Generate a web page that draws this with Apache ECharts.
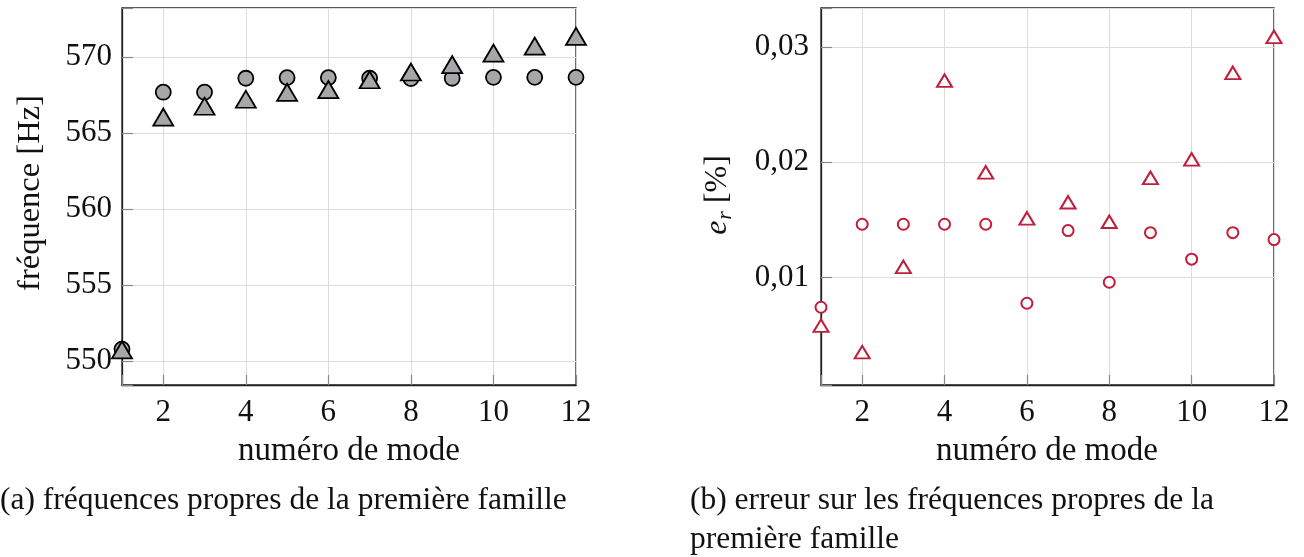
<!DOCTYPE html>
<html>
<head>
<meta charset="utf-8">
<script src="https://cdn.jsdelivr.net/npm/echarts@6/dist/echarts.min.js"></script>
<style>
html,body{margin:0;padding:0;background:#fff;}
#c{width:1304px;height:557px;}
</style>
</head>
<body>
<div id="c"></div>
<script>
// ---- data ----
const modes = [1, 2, 3, 4, 5, 6, 7, 8, 9, 10, 11, 12];
const freqRef = [550.8, 567.7, 567.7, 568.62, 568.66, 568.66, 568.62, 568.6, 568.62, 568.68, 568.68, 568.68];
const freqModel = [550.55, 565.86, 566.58, 567.04, 567.49, 567.67, 568.32, 568.83, 569.32, 570.07, 570.53, 571.18];
const errRef = [0.00743, 0.01463, 0.01463, 0.01463, 0.01463, 0.00778, 0.01408, 0.0096, 0.0139, 0.0116, 0.0139, 0.0133];
const errModel = [0.00566, 0.00336, 0.01076, 0.02691, 0.01896, 0.01497, 0.01636, 0.01467, 0.01848, 0.02008, 0.02758, 0.0307];
const xTicks = [2, 4, 6, 8, 10, 12];
const freqTicks = [550, 555, 560, 565, 570];
const errTicks = [0.01, 0.02, 0.03];
const labelsText = {
  xName: 'numéro de mode',
  yNameA: 'fréquence [Hz]',
  captionA: '(a) fréquences propres de la première famille',
  captionB1: '(b) erreur sur les fréquences propres de la',
  captionB2: 'première famille'
};

const FONT = 'Liberation Serif';
const TXT = '#111';
const RED = '#c01f3c';
const GRAY = '#a7a7aa';

function inList(list, v) {
  return list.some(t => Math.abs(t - v) < 1e-7 * Math.max(1, Math.abs(t)));
}

const chart = echarts.init(document.getElementById('c'), null, {renderer: 'canvas'});

function xAxisDef(gridIndex) {
  return {
    type: 'value', gridIndex: gridIndex, min: 1, max: 12,
    splitNumber: 5, minInterval: 2, maxInterval: 2,
    axisLine: {show: true, onZero: false, lineStyle: {color: '#222', width: 1.3}},
    axisTick: {show: true, inside: true, length: 10, lineStyle: {color: '#8a8a8a', width: 1.2}},
    splitLine: {show: true, lineStyle: {color: '#dcdcdc', width: 1}},
    axisLabel: {
      margin: 12, color: TXT, fontFamily: FONT, fontSize: 31,
      showMinLabel: true, showMaxLabel: true,
      formatter: v => inList(xTicks, v) ? String(Math.round(v)) : ''
    }
  };
}

const option = {
  animation: false,
  backgroundColor: '#fff',
  grid: [
    {left: 122, top: 8, width: 454, height: 377, show: true, borderColor: '#222', borderWidth: 1.3, backgroundColor: 'transparent'},
    {left: 821, top: 8, width: 453, height: 377, show: true, borderColor: '#222', borderWidth: 1.3, backgroundColor: 'transparent'}
  ],
  xAxis: [xAxisDef(0), xAxisDef(1)],
  yAxis: [
    {
      type: 'value', gridIndex: 0, min: 548.44, max: 573.24,
      splitNumber: 5, minInterval: 5, maxInterval: 5,
      axisLine: {show: true, onZero: false, lineStyle: {color: '#222', width: 1.3}},
      axisTick: {show: true, inside: true, length: 11, lineStyle: {color: '#8a8a8a', width: 1.2}},
      splitLine: {show: true, lineStyle: {color: '#dcdcdc', width: 1}},
      axisLabel: {
        margin: 10, color: TXT, fontFamily: FONT, fontSize: 31,
        formatter: v => inList(freqTicks, v) ? String(Math.round(v)) : ''
      }
    },
    {
      type: 'value', gridIndex: 1, min: 0.00069, max: 0.03338,
      splitNumber: 3, minInterval: 0.01, maxInterval: 0.01,
      axisLine: {show: true, onZero: false, lineStyle: {color: '#222', width: 1.3}},
      axisTick: {show: true, inside: true, length: 11, lineStyle: {color: '#8a8a8a', width: 1.2}},
      splitLine: {show: true, lineStyle: {color: '#dcdcdc', width: 1}},
      axisLabel: {
        margin: 12, color: TXT, fontFamily: FONT, fontSize: 31,
        formatter: v => inList(errTicks, v) ? v.toFixed(2).replace('.', ',') : ''
      }
    }
  ],
  series: [
    {
      type: 'scatter', xAxisIndex: 0, yAxisIndex: 0, clip: false, z: 3,
      symbol: 'circle', symbolSize: 15,
      itemStyle: {color: GRAY, borderColor: '#000', borderWidth: 1.8, opacity: 1},
      data: modes.map((m, i) => [m, freqRef[i]])
    },
    {
      type: 'scatter', xAxisIndex: 0, yAxisIndex: 0, clip: false, z: 4,
      symbol: 'triangle', symbolSize: [20, 17], symbolOffset: [0, -3],
      itemStyle: {color: GRAY, borderColor: '#000', borderWidth: 1.8, opacity: 1},
      data: modes.map((m, i) => [m, freqModel[i]])
    },
    {
      type: 'scatter', xAxisIndex: 1, yAxisIndex: 1, clip: false, z: 3,
      symbol: 'circle', symbolSize: 11,
      itemStyle: {color: '#fff', borderColor: RED, borderWidth: 2, opacity: 1},
      data: modes.map((m, i) => [m, errRef[i]])
    },
    {
      type: 'scatter', xAxisIndex: 1, yAxisIndex: 1, clip: false, z: 4,
      symbol: 'triangle', symbolSize: [15, 12.5], symbolOffset: [0, -2],
      itemStyle: {color: '#fff', borderColor: RED, borderWidth: 2, opacity: 1},
      data: modes.map((m, i) => [m, errModel[i]])
    }
  ],
  graphic: [
    {type: 'text', x: 349, y: 451, style: {text: labelsText.xName, font: '33px "' + FONT + '"', fill: TXT, textAlign: 'center', textVerticalAlign: 'middle'}},
    {type: 'text', x: 1047, y: 451, style: {text: labelsText.xName, font: '33px "' + FONT + '"', fill: TXT, textAlign: 'center', textVerticalAlign: 'middle'}},
    {type: 'text', x: 30, y: 193, rotation: Math.PI / 2, style: {text: labelsText.yNameA, font: '32.5px "' + FONT + '"', fill: TXT, textAlign: 'center', textVerticalAlign: 'middle'}},
    {type: 'text', x: 718, y: 195, rotation: Math.PI / 2, style: {
      text: '{e|e}{r|r}{n| [%]}', fill: TXT, textAlign: 'center', textVerticalAlign: 'middle',
      rich: {
        e: {fontFamily: FONT, fontSize: 32, fontStyle: 'italic', lineHeight: 32, verticalAlign: 'top', fill: TXT},
        r: {fontFamily: FONT, fontSize: 22, fontStyle: 'italic', lineHeight: 22, verticalAlign: 'top', padding: [12, 0, 0, 1], fill: TXT},
        n: {fontFamily: FONT, fontSize: 32, lineHeight: 32, verticalAlign: 'top', fill: TXT}
      }
    }},
    {type: 'text', x: 0, y: 501, style: {text: labelsText.captionA, font: '31.5px "' + FONT + '"', fill: TXT, textAlign: 'left', textVerticalAlign: 'middle'}},
    {type: 'text', x: 690, y: 501, style: {text: labelsText.captionB1, font: '31.5px "' + FONT + '"', fill: TXT, textAlign: 'left', textVerticalAlign: 'middle'}},
    {type: 'text', x: 690, y: 540, style: {text: labelsText.captionB2, font: '31.5px "' + FONT + '"', fill: TXT, textAlign: 'left', textVerticalAlign: 'middle'}}
  ]
};
chart.setOption(option);
</script>
</body>
</html>
